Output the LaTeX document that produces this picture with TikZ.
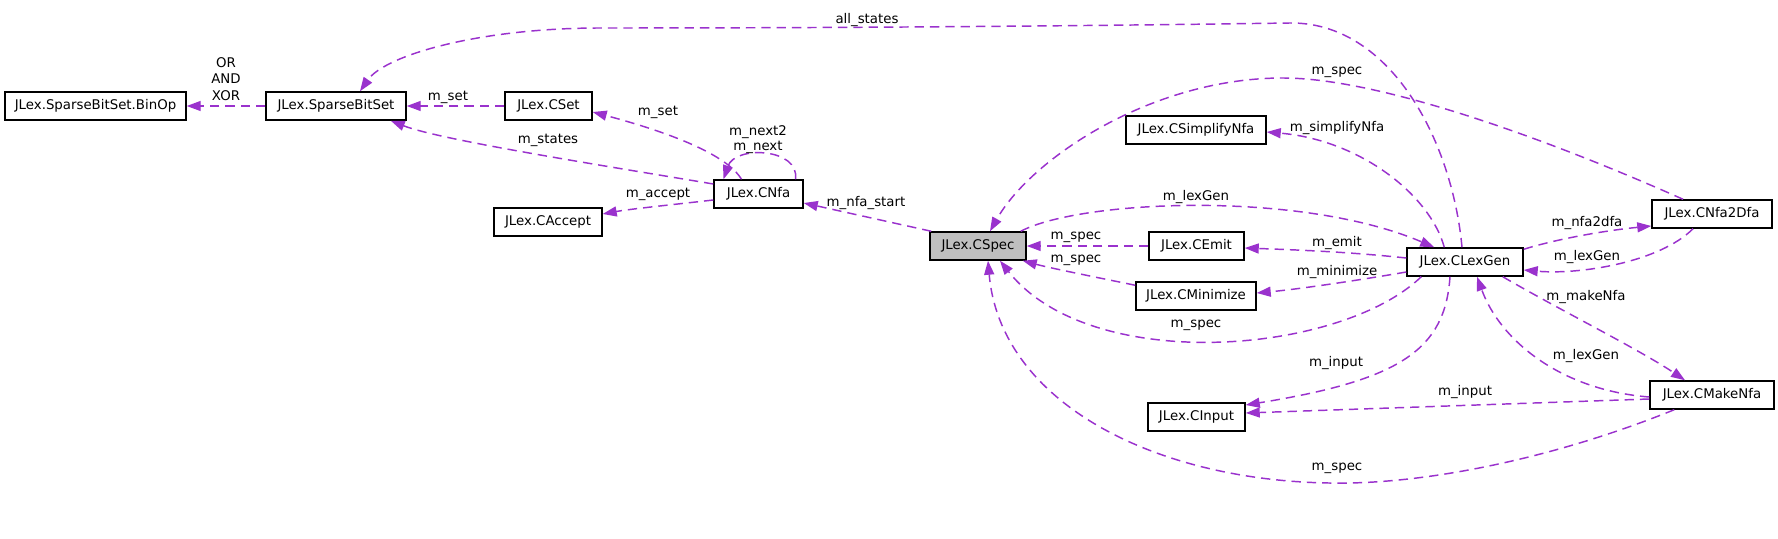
\documentclass[tikz,border=0pt]{standalone}
\usepackage{fontspec}
\setmainfont{DejaVu Sans}
\usetikzlibrary{arrows.meta,calc}
\definecolor{edgec}{HTML}{9A32CD}
\definecolor{specfill}{HTML}{BFBFBF}
\begin{document}
\begin{tikzpicture}[x=0.75pt,y=-0.75pt,
  cls/.style={draw=black, line width=1.1pt, fill=white, minimum height=21pt, inner sep=0pt, font=\fontsize{10}{12}\selectfont},
  dep/.style={draw=edgec, line width=1.1pt, dash pattern=on 7pt off 4.5pt, -{Triangle[length=10.5pt,width=7.5pt]}},
  lbl/.style={font=\fontsize{10}{12.4}\selectfont, inner sep=0pt, align=center}]
\useasboundingbox (0,0) rectangle (1778,539);
% nodes
\node[cls, minimum width=135.75pt] (BinOp) at (95.5,106) {JLex.SparseBitSet.BinOp};
\node[cls, minimum width=105pt] (SBS) at (336,106) {JLex.SparseBitSet};
\node[cls, minimum width=65.25pt] (CSet) at (548.5,106) {JLex.CSet};
\node[cls, minimum width=66.75pt] (CNfa) at (758.5,194) {JLex.CNfa};
\node[cls, minimum width=81pt] (CAccept) at (548,222) {JLex.CAccept};
\node[cls, minimum width=72pt, fill=specfill] (CSpec) at (978,246) {JLex.CSpec};
\node[cls, minimum width=71.25pt] (CEmit) at (1196.5,246) {JLex.CEmit};
\node[cls, minimum width=90pt] (CMin) at (1196,296) {JLex.CMinimize};
\node[cls, minimum width=105pt] (CSimp) at (1196,130) {JLex.CSimplifyNfa};
\node[cls, minimum width=87pt] (CLex) at (1465,262) {JLex.CLexGen};
\node[cls, minimum width=90pt] (CN2D) at (1712,214) {JLex.CNfa2Dfa};
\node[cls, minimum width=93pt] (CMake) at (1712,395) {JLex.CMakeNfa};
\node[cls, minimum width=72.75pt] (CInput) at (1196.5,417) {JLex.CInput};
% edges
\draw[dep] (SBS.west) -- (BinOp.east);
\draw[dep] (CSet.west) -- (SBS.east);
\draw[dep] ($(CNfa.west)+(0,-10)$) .. controls (600,165) and (440,140) .. ($(SBS.south east)+(-16,0)$);
\draw[dep] ($(CNfa.north)+(-17,0)$) .. controls (730,160) and (690,138) .. ($(CSet.east)+(0,6)$);
\draw[dep] ($(CNfa.north)+(37,0)$) .. controls (800,148) and (735,145) .. ($(CNfa.north)+(-35,0)$);
\draw[dep] ($(CNfa.west)+(0,6)$) .. controls (670,205) and (630,209) .. ($(CAccept.east)+(0,-8)$);
\draw[dep] ($(CSpec.north west)+(2,0)$) -- ($(CNfa.east)+(0,9)$);
\draw[dep] (CEmit.west) -- (CSpec.east);
\draw[dep] ($(CMin.north west)+(0,4)$) .. controls (1090,276) and (1050,268) .. ($(CSpec.south east)+(-4,0)$);
\draw[dep] ($(CSpec.north east)+(-6,0)$) .. controls (1080,200) and (1300,190) .. ($(CLex.north west)+(28,0)$);
\draw[dep] ($(CLex.west)+(0,-4)$) .. controls (1350,252) and (1300,250) .. ($(CEmit.east)+(0,2)$);
\draw[dep] ($(CLex.west)+(0,10)$) .. controls (1360,280) and (1300,289) .. ($(CMin.east)+(0,-3)$);
\draw[dep] ($(CLex.south west)+(15,0)$) .. controls (1340,355) and (1090,375) .. ($(CSpec.south)+(22,0)$);
\draw[dep] ($(CLex.north west)+(38,0)$) .. controls (1430,195) and (1360,140) .. ($(CSimp.east)+(0,2)$);
\draw[dep] ($(CLex.north)+(-3,0)$) .. controls (1452,140) and (1390,22) .. (1290,23)
   .. controls (1150,25) and (900,28) .. (600,28) .. controls (480,28) and (385,55) .. ($(SBS.north)+(24,0)$);
\draw[dep] ($(CN2D.north)+(-29,0)$) .. controls (1550,140) and (1380,78) .. (1283,78)
   .. controls (1150,78) and (1030,160) .. ($(CSpec.north)+(12,0)$);
\draw[dep] ($(CLex.north east)+(0,2)$) .. controls (1560,238) and (1610,230) .. ($(CN2D.west)+(0,12)$);
\draw[dep] ($(CN2D.south)+(-19,0)$) .. controls (1660,262) and (1580,275) .. ($(CLex.east)+(0,8)$);
\draw[dep] ($(CLex.south east)+(-21,0)$) .. controls (1560,310) and (1640,350) .. ($(CMake.north)+(-27,0)$);
\draw[dep] ($(CMake.west)+(0,2)$) .. controls (1560,390) and (1500,340) .. ($(CLex.south)+(12,0)$);
\draw[dep] ($(CLex.south)+(-15,0)$) .. controls (1445,350) and (1400,380) .. ($(CInput.east)+(0,-12)$);
\draw[dep] ($(CMake.west)+(0,4)$) -- ($(CInput.east)+(0,-4)$);
\draw[dep] ($(CMake.south west)+(25,0)$) .. controls (1550,460) and (1420,485) .. (1329,483)
   .. controls (1150,480) and (1000,400) .. ($(CSpec.south)+(10,0)$);
% labels
\node[lbl] (l1) at (226,79) {OR\\AND\\XOR};
\node[lbl] (l2) at (448,97) {m\_set};
\node[lbl] (l3) at (548,140) {m\_states};
\node[lbl] (l4) at (658,112) {m\_set};
\node[lbl] (l5) at (758,132) {m\_next2};
\node[lbl] (l6) at (758,147) {m\_next};
\node[lbl] (l7) at (658,194) {m\_accept};
\node[lbl] (l8) at (866,203) {m\_nfa\_start};
\node[lbl] (l9) at (1076,237) {m\_spec};
\node[lbl] (l10) at (1076,260) {m\_spec};
\node[lbl] (l11) at (1196,197) {m\_lexGen};
\node[lbl] (l12) at (1337,243) {m\_emit};
\node[lbl] (l13) at (1337,272) {m\_minimize};
\node[lbl] (l14) at (1196,325) {m\_spec};
\node[lbl] (l15) at (1337,128) {m\_simplifyNfa};
\node[lbl] (l16) at (867,20) {all\_states};
\node[lbl] (l17) at (1337,72) {m\_spec};
\node[lbl] (l18) at (1587,223) {m\_nfa2dfa};
\node[lbl] (l19) at (1587,257) {m\_lexGen};
\node[lbl] (l20) at (1586,297) {m\_makeNfa};
\node[lbl] (l21) at (1586,356) {m\_lexGen};
\node[lbl] (l22) at (1336,363) {m\_input};
\node[lbl] (l23) at (1465,392) {m\_input};
\node[lbl] (l24) at (1337,468) {m\_spec};
\end{tikzpicture}
\end{document}
